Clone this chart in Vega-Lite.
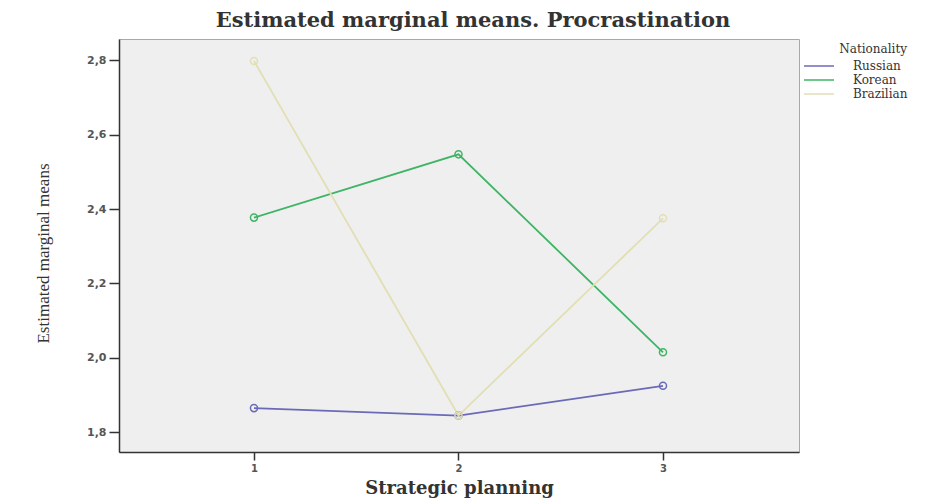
{
  "$schema": "https://vega.github.io/schema/vega-lite/v6.json",
  "autosize": {"type": "none"},
  "padding": {"left": 119, "top": 39, "right": 139, "bottom": 50},
  "width": 680,
  "height": 413,
  "background": "white",
  "title": {
    "text": "Estimated marginal means. Procrastination",
    "font": "DejaVu Serif",
    "fontSize": 21,
    "fontWeight": "bold",
    "color": "#333333",
    "anchor": "middle",
    "dx": 14,
    "offset": 8
  },
  "data": {
    "values": [
      {"planning": 1, "mean": 1.865, "Nationality": "Russian"},
      {"planning": 2, "mean": 1.845, "Nationality": "Russian"},
      {"planning": 3, "mean": 1.925, "Nationality": "Russian"},
      {"planning": 1, "mean": 2.377, "Nationality": "Korean"},
      {"planning": 2, "mean": 2.547, "Nationality": "Korean"},
      {"planning": 3, "mean": 2.015, "Nationality": "Korean"},
      {"planning": 1, "mean": 2.798, "Nationality": "Brazilian"},
      {"planning": 2, "mean": 1.845, "Nationality": "Brazilian"},
      {"planning": 3, "mean": 2.375, "Nationality": "Brazilian"}
    ]
  },
  "mark": {
    "type": "line",
    "strokeWidth": 1.8,
    "point": {"filled": false, "size": 50, "strokeWidth": 1.5}
  },
  "encoding": {
    "x": {
      "field": "planning",
      "type": "quantitative",
      "scale": {"domain": [0.34, 3.665], "nice": false, "zero": false},
      "axis": {
        "values": [1, 2, 3],
        "grid": false,
        "title": "Strategic planning",
        "titleFont": "DejaVu Serif",
        "titleFontSize": 18,
        "titleFontWeight": "bold",
        "titleColor": "#333333",
        "titlePadding": 6,
        "labelFont": "DejaVu Sans",
        "labelFontSize": 10,
        "labelFontWeight": "bold",
        "labelColor": "#555555",
        "labelPadding": 3,
        "tickSize": 8,
        "tickColor": "#333333",
        "tickWidth": 1.5,
        "domainColor": "#333333",
        "domainWidth": 1.5
      }
    },
    "y": {
      "field": "mean",
      "type": "quantitative",
      "scale": {"domain": [1.747, 2.857], "nice": false, "zero": false},
      "axis": {
        "values": [1.8, 2.0, 2.2, 2.4, 2.6, 2.8],
        "labelExpr": "replace(format(datum.value, '.1f'), '.', ',')",
        "grid": false,
        "title": "Estimated marginal means",
        "titleFont": "Liberation Serif",
        "titleFontSize": 17,
        "titleFontWeight": "normal",
        "titleColor": "#333333",
        "titlePadding": 34,
        "titleY": 214,
        "labelFont": "DejaVu Sans",
        "labelFontSize": 11,
        "labelFontWeight": "bold",
        "labelColor": "#555555",
        "labelPadding": 3,
        "tickSize": 10,
        "tickColor": "#333333",
        "tickWidth": 1.5,
        "domainColor": "#333333",
        "domainWidth": 1.5
      }
    },
    "color": {
      "field": "Nationality",
      "type": "nominal",
      "sort": ["Russian", "Korean", "Brazilian"],
      "scale": {
        "domain": ["Russian", "Korean", "Brazilian"],
        "range": ["#6a6ab8", "#3eb465", "#e2dfb4"]
      },
      "legend": {
        "orient": "none",
        "legendX": 693,
        "legendY": 5,
        "title": "Nationality",
        "titleFont": "DejaVu Serif",
        "titleFontSize": 12,
        "titleFontWeight": "normal",
        "titleColor": "#333333",
        "titleAnchor": "end",
        "titlePadding": 3,
        "labelFont": "DejaVu Serif",
        "labelFontSize": 12,
        "labelColor": "#333333",
        "labelOffset": 27,
        "symbolType": "M-2.5,0H2.5",
        "symbolSize": 144,
        "symbolStrokeWidth": 1.5,
        "rowPadding": 1
      }
    }
  },
  "config": {
    "view": {"fill": "#efefef", "stroke": "#a8a8a8", "strokeWidth": 1}
  }
}
